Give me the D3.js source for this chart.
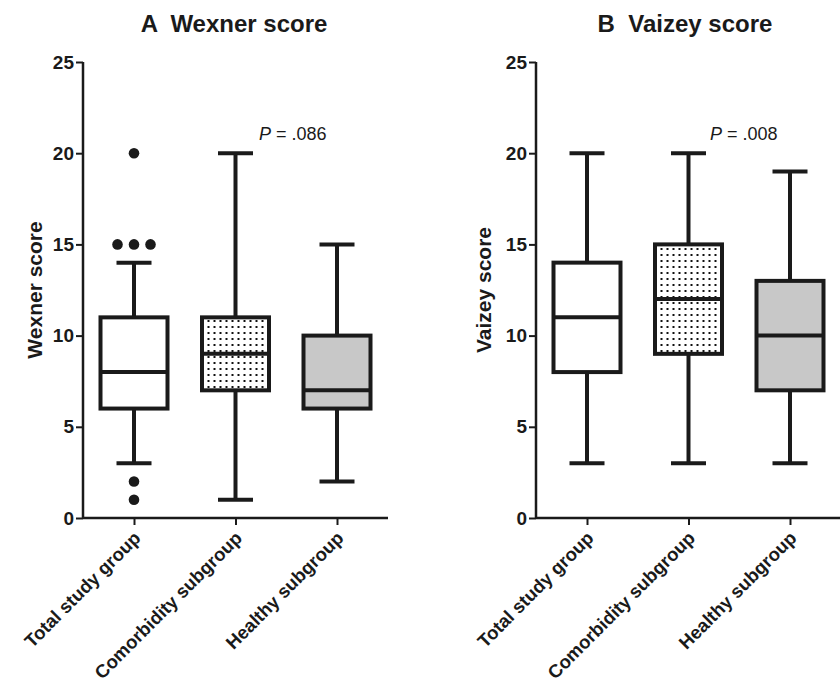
<!DOCTYPE html>
<html>
<head>
<meta charset="utf-8">
<script src="https://cdn.jsdelivr.net/npm/d3@7"></script>
<style>
  body { margin: 0; background: #fff; }
  text { font-family: "Liberation Sans", Arial, sans-serif; fill: #1a1a1a; }
</style>
</head>
<body>
<script>
const groups = ["Total study group", "Comorbidity subgroup", "Healthy subgroup"]
const yTicks = [0, 5, 10, 15, 20, 25]

// [whiskerLow, q1, median, q3, whiskerHigh]
const wexnerStats = [[3, 6, 8, 11, 14], [1, 7, 9, 11, 20], [2, 6, 7, 10, 15]]
const wexnerOutliers = [[20, 15, 15, 15, 2, 1], [], []]
const vaizeyStats = [[3, 8, 11, 14, 20], [3, 9, 12, 15, 20], [3, 7, 10, 13, 19]]
const vaizeyOutliers = [[], [], []]

const fills = ["#ffffff", "url(#dots)", "#c8c8c8"]
const ink = "#1a1a1a"

const W = 840, H = 689

const svg = d3.select("body").append("svg")
    .attr("width", W).attr("height", H)

const defs = svg.append("defs")
const pat = defs.append("pattern")
    .attr("id", "dots")
    .attr("patternUnits", "userSpaceOnUse")
    .attr("width", 6).attr("height", 6)
pat.append("rect").attr("width", 6).attr("height", 6).attr("fill", "#fff")
pat.append("rect").attr("x", 2).attr("y", 2).attr("width", 2).attr("height", 2).attr("fill", "#111")

function panel(opts) {
    const g = svg.append("g")
    const x0 = opts.left, x1 = opts.left + 305
    const y = d3.scaleLinear().domain([0, 25]).range([518, 62])
    const x = d3.scalePoint().domain(groups).range([x0 + 51, x1 - 51])

    const boxW = 67, capW = 35

    // title
    g.append("text")
        .attr("x", opts.titleX).attr("y", 32)
        .attr("text-anchor", "middle")
        .style("font-size", "24px").style("font-weight", "bold")
        .style("white-space", "pre")
        .text(opts.title)

    // y axis
    const yAxis = g.append("g")
        .attr("transform", `translate(${x0},0)`)
        .call(d3.axisLeft(y).tickValues(yTicks).tickSize(7).tickPadding(2))
    yAxis.select(".domain").attr("stroke", ink).attr("stroke-width", 2.5)
        .attr("d", `M0,${y(25)}V${y(0)}`)
    yAxis.selectAll(".tick line").attr("stroke", ink).attr("stroke-width", 2)
    yAxis.selectAll(".tick text")
        .style("font-size", "19px").style("font-weight", "bold")
        .attr("fill", ink)

    g.append("text")
        .attr("transform", `translate(${opts.yLabelX},290) rotate(-90)`)
        .attr("text-anchor", "middle")
        .style("font-size", "21px").style("font-weight", "bold")
        .text(opts.yLabel)

    // x axis
    const xAxis = g.append("g")
        .attr("transform", `translate(0,${y(0)})`)
        .call(d3.axisBottom(x).tickSize(7).tickSizeOuter(0).tickPadding(10))
    xAxis.select(".domain").attr("stroke", ink).attr("stroke-width", 2.5)
        .attr("d", `M${x0},0H${x1}`)
    xAxis.selectAll(".tick line").attr("stroke", ink).attr("stroke-width", 2)
    xAxis.selectAll(".tick text")
        .style("font-size", "18.5px").style("font-weight", "bold")
        .attr("fill", ink)
        .attr("text-anchor", "end")
        .attr("dy", "0.7em")
        .attr("transform", "translate(-2,12) rotate(-45)")
        .attr("y", 0).attr("x", 0)

    // boxes
    const boxes = g.selectAll(".box")
        .data(opts.stats.map((s, i) => ({ name: groups[i], s: s, fill: fills[i] })))
        .enter().append("g")
        .attr("transform", d => `translate(${x(d.name)},0)`)

    boxes.append("line")
        .attr("x1", 0).attr("x2", 0)
        .attr("y1", d => y(d.s[0])).attr("y2", d => y(d.s[1]))
        .attr("stroke", ink).attr("stroke-width", 4)
    boxes.append("line")
        .attr("x1", 0).attr("x2", 0)
        .attr("y1", d => y(d.s[3])).attr("y2", d => y(d.s[4]))
        .attr("stroke", ink).attr("stroke-width", 4)
    boxes.selectAll(".cap")
        .data(d => [d.s[0], d.s[4]])
        .enter().append("line")
        .attr("x1", -capW / 2).attr("x2", capW / 2)
        .attr("y1", v => y(v)).attr("y2", v => y(v))
        .attr("stroke", ink).attr("stroke-width", 4)
    boxes.append("rect")
        .attr("x", -boxW / 2).attr("width", boxW)
        .attr("y", d => y(d.s[3])).attr("height", d => y(d.s[1]) - y(d.s[3]))
        .attr("fill", d => d.fill)
        .attr("stroke", ink).attr("stroke-width", 4)
    boxes.append("line")
        .attr("x1", -boxW / 2).attr("x2", boxW / 2)
        .attr("y1", d => y(d.s[2])).attr("y2", d => y(d.s[2]))
        .attr("stroke", ink).attr("stroke-width", 4)

    // outliers, spread sideways when values repeat
    opts.outliers.forEach((vals, i) => {
        const counts = d3.rollup(vals, v => v.length, v => v)
        const seen = new Map()
        vals.forEach(v => {
            const n = counts.get(v)
            const k = seen.get(v) || 0
            seen.set(v, k + 1)
            g.append("circle")
                .attr("cx", x(groups[i]) + (k - (n - 1) / 2) * 16.5)
                .attr("cy", y(v))
                .attr("r", 5.3)
                .attr("fill", ink)
        })
    })

    // P value
    const p = g.append("text")
        .attr("x", opts.pX).attr("y", 140)
        .style("font-size", "18px")
    p.append("tspan").style("font-style", "italic").text("P")
    p.append("tspan").text(" = " + opts.p)
}

panel({
    left: 83, title: "A  Wexner score", titleX: 234, yLabel: "Wexner score", yLabelX: 42,
    stats: wexnerStats, outliers: wexnerOutliers, p: ".086", pX: 259
})
panel({
    left: 536, title: "B  Vaizey score", titleX: 685, yLabel: "Vaizey score", yLabelX: 491,
    stats: vaizeyStats, outliers: vaizeyOutliers, p: ".008", pX: 710
})
</script>
</body>
</html>
